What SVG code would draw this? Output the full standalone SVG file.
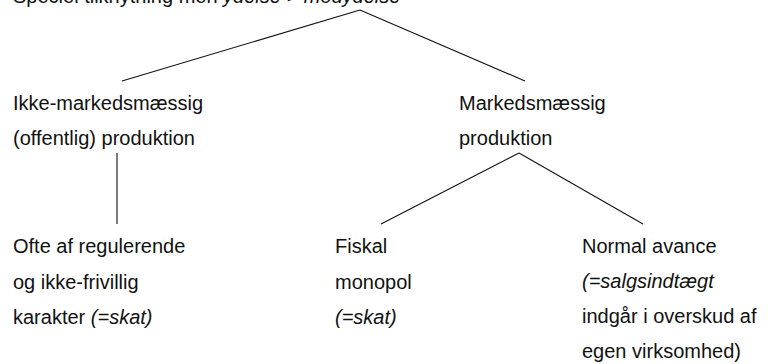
<svg xmlns="http://www.w3.org/2000/svg" width="773" height="364" viewBox="0 0 773 364">
<style>
text{font-family:"Liberation Sans",Arial,sans-serif;font-size:20px;fill:#111}
.i{font-style:italic}
.c line{stroke:#111;stroke-width:1.1}
</style>
<rect width="773" height="364" fill="#fff"/>
<g id="root"><text x="13" y="3">Speciel tilknytning men <tspan class="i">ydelse &gt; modydelse</tspan></text></g>
<g class="c" id="connectors">
<line x1="360" y1="10" x2="122" y2="81"/>
<line x1="360" y1="10" x2="525" y2="81"/>
<line x1="117" y1="153" x2="117" y2="224"/>
<line x1="519" y1="153" x2="381" y2="224"/>
<line x1="519" y1="153" x2="643" y2="224"/>
</g>
<g id="ikke"><text x="13" y="110">Ikke-markedsmæssig</text><text x="13" y="145">(offentlig) produktion</text></g>
<g id="marked"><text x="459" y="110">Markedsmæssig</text><text x="459" y="145">produktion</text></g>
<g id="ofte"><text x="13" y="253">Ofte af regulerende</text><text x="13" y="289">og ikke-frivillig</text><text x="13" y="324">karakter <tspan class="i">(=skat)</tspan></text></g>
<g id="fiskal"><text x="335" y="253">Fiskal</text><text x="335" y="289">monopol</text><text x="335" y="324" class="i">(=skat)</text></g>
<g id="normal"><text x="582" y="253">Normal avance</text><text x="582" y="288" class="i">(=salgsindtægt</text><text x="582" y="323">indgår i overskud af</text><text x="582" y="358">egen virksomhed)</text></g>
</svg>
